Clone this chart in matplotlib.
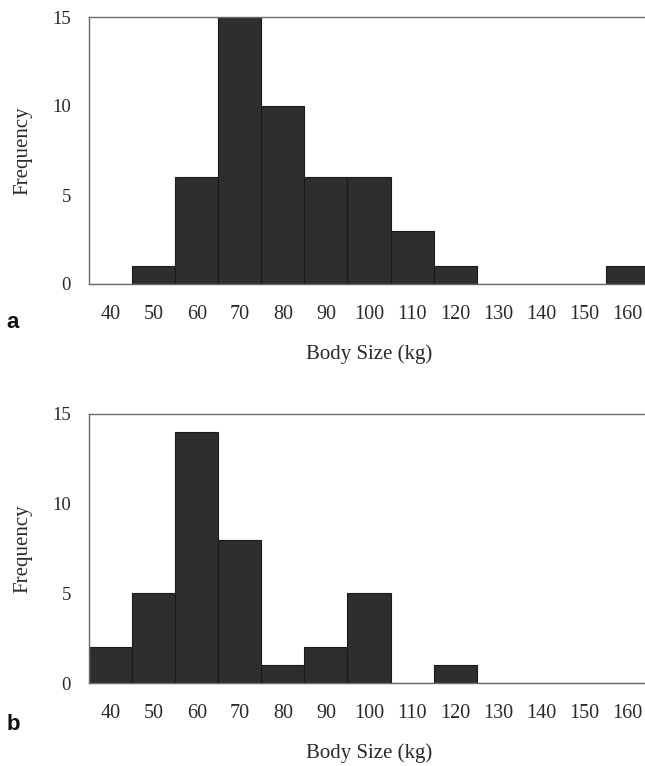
import matplotlib
matplotlib.use('Agg')
import matplotlib.pyplot as plt

# Bin centres (kg) and counts
bins = [40, 50, 60, 70, 80, 90, 100, 110, 120, 130, 140, 150, 160]
counts_a = [0, 1, 6, 15, 10, 6, 6, 3, 1, 0, 0, 0, 1]
counts_b = [2, 5, 14, 8, 1, 2, 5, 0, 1, 0, 0, 0, 0]
tick_labels = [str(b) for b in bins]
y_ticks = [0, 5, 10, 15]

plt.rcParams['font.family'] = ['Liberation Serif', 'DejaVu Serif']

fig = plt.figure(figsize=(6.45, 7.66), dpi=100)
W, H = 645, 766

def place(top_px, bottom_px, left_px=89, right_px=649):
    return [left_px / W, (H - bottom_px) / H, (right_px - left_px) / W, (bottom_px - top_px) / H]

panels = [
    (counts_a, place(17, 284), 'a', 322),
    (counts_b, place(414, 683), 'b', 725),
]

for counts, pos, letter, letter_y in panels:
    ax = fig.add_axes(pos)
    ax.bar(bins, counts, width=10, color='#2e2e2e', edgecolor='#1a1a1a', linewidth=0.8, zorder=2)
    ax.set_xlim(35, 165)
    ax.set_ylim(0, 15)
    ax.set_xticks(bins)
    ax.set_xticklabels(tick_labels, fontsize=14.5, color='#2a2a2a')
    ax.set_yticks(y_ticks)
    ax.set_yticklabels([str(t) for t in y_ticks], fontsize=13.5, color='#2a2a2a')
    ax.tick_params(axis='x', length=0, pad=15)
    ax.tick_params(axis='y', length=0, pad=13)
    for side in ['top', 'left', 'bottom']:
        ax.spines[side].set_color('#6a6a6a')
        ax.spines[side].set_linewidth(1.0)
    ax.spines['right'].set_visible(False)
    ax.set_xlabel('Body Size (kg)', fontsize=15, color='#2a2a2a', labelpad=15)
    ax.set_ylabel('Frequency', fontsize=15, color='#2a2a2a', labelpad=14)
    fig.text(13 / W, (H - letter_y) / H, letter, fontsize=16, fontweight='bold',
             family='Liberation Sans', ha='center', va='center', color='#111111')

plt.savefig('out.png', dpi=100)
